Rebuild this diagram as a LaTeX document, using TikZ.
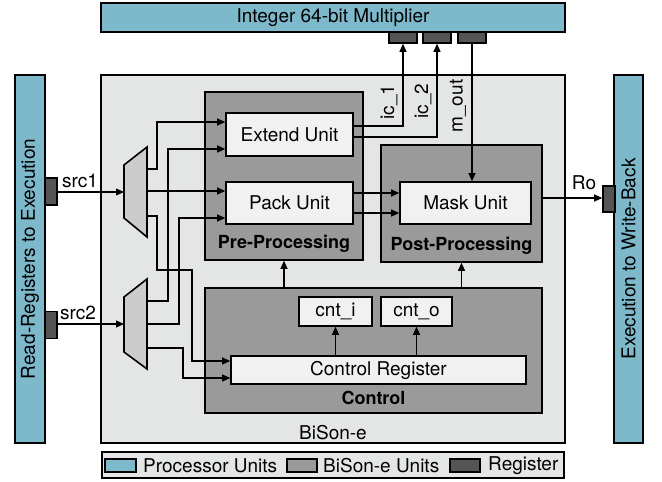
\documentclass[tikz,border=0pt]{standalone}
\usepackage{fontspec}
\setmainfont{TeX Gyre Heros}
\usetikzlibrary{arrows.meta}

\definecolor{procblue}{HTML}{7EB8CB}
\definecolor{bisonbg}{HTML}{E4E5E5}
\definecolor{unitgray}{HTML}{9A9A9A}
\definecolor{innerwhite}{HTML}{F0F1F0}
\definecolor{muxgray}{HTML}{CCCCCC}
\definecolor{reggray}{HTML}{555555}

\tikzset{
  blk/.style={draw=black, line width=1.6pt, inner sep=0pt},
  procunit/.style={blk, fill=procblue},
  bisonunit/.style={blk, fill=unitgray},
  subunit/.style={blk, fill=innerwhite},
  regbox/.style={blk, fill=reggray},
  wire/.style={line width=1.1pt, -{Triangle[length=8pt,width=7pt]}},
  lbl/.style={inner sep=0pt},
  grouplbl/.style={inner sep=0pt, font=\fontsize{18}{20}\selectfont\bfseries},
}

\begin{document}
\begin{tikzpicture}[x=1pt, y=-1pt, font=\fontsize{19}{21}\selectfont]
\useasboundingbox (0,0) rectangle (662,482);

% ---- processor units ----
\node[procunit, minimum width=464pt, minimum height=29pt] (mult) at (333,17.5) {Integer 64-bit Multiplier};
\node[regbox, minimum width=28pt, minimum height=11pt] (rA) at (403,37.5) {};
\node[regbox, minimum width=28pt, minimum height=11pt] (rB) at (437,37.5) {};
\node[regbox, minimum width=28pt, minimum height=11pt] (rC) at (472,37.5) {};

\node[procunit, minimum width=368pt, minimum height=30pt, rotate=90] (rrx) at (30,259) {Read-Registers to Execution};
\node[procunit, minimum width=368pt, minimum height=29pt, rotate=90] (exwb) at (628.5,259) {Execution to Write-Back};

% ---- BiSon-e ----
\node[blk, fill=bisonbg, minimum width=464pt, minimum height=368pt] (bison) at (333,259) {};
\node[lbl] (bisonlbl) at (333,433) {BiSon-e};

\node[regbox, minimum width=12pt, minimum height=27pt] (src1reg) at (51,191.5) {};
\node[regbox, minimum width=12pt, minimum height=27pt] (src2reg) at (51,325) {};
\node[regbox, minimum width=12pt, minimum height=26pt] (roreg) at (609,199) {};

% multiplexers
\draw[blk, fill=muxgray] (124,165) -- (147,147) -- (147,237) -- (124,218) -- cycle;
\draw[blk, fill=muxgray] (124,297) -- (147,279) -- (147,369) -- (124,352) -- cycle;
\coordinate (m1in) at (124,192);
\coordinate (m1a) at (147,169);
\coordinate (m1b) at (147,191);
\coordinate (m1c) at (147,216);
\coordinate (m2in) at (124,324);
\coordinate (m2a) at (147,301);
\coordinate (m2b) at (147,324);
\coordinate (m2c) at (147,348);

% pre-processing
\node[bisonunit, minimum width=158pt, minimum height=168pt] (pre) at (284,176) {};
\node[grouplbl] (prelbl) at (284,244) {Pre-Processing};
\node[subunit, minimum width=127pt, minimum height=43pt] (extend) at (289.5,134.5) {Extend Unit};
\node[subunit, minimum width=127pt, minimum height=42pt] (pack) at (289.5,203) {Pack Unit};

% post-processing
\node[bisonunit, minimum width=161pt, minimum height=117pt] (post) at (461.5,203.5) {};
\node[grouplbl] (postlbl) at (461.5,246) {Post-Processing};
\node[subunit, minimum width=131pt, minimum height=42pt] (mask) at (465.5,203) {Mask Unit};

% control
\node[bisonunit, minimum width=337pt, minimum height=125pt] (ctrl) at (373.5,350.5) {};
\node[grouplbl] (ctrllbl) at (373.5,398) {Control};
\node[subunit, minimum width=73pt, minimum height=29pt] (cnti) at (335.5,311.5) {cnt\_i};
\node[subunit, minimum width=71pt, minimum height=29pt] (cnto) at (416.5,311.5) {cnt\_o};
\node[subunit, minimum width=295pt, minimum height=28pt] (creg) at (378.5,370) {Control Register};

% ---- connections ----
\draw[wire] (src1reg.east |- m1in) -- (m1in);
\draw[wire] (src2reg.east |- m2in) -- (m2in);
\node[lbl] (src1lbl) at (80,181) {src1};
\node[lbl] (src2lbl) at (78,313) {src2};

\draw[wire] (m1a) -- (157,169) -- (157,122) -- (extend.west |- 0,122);
\draw[wire] (m2a) -- (168,301) -- (168,149) -- (extend.west |- 0,149);
\draw[wire] (m1b) -- (pack.west |- m1b);
\draw[wire] (m2b) -- (179,324) -- (179,218) -- (pack.west |- 0,218);
\draw[wire] (m1c) -- (157,216) -- (157,270) -- (192,270) -- (192,361) -- (creg.west |- 0,361);
\draw[wire] (m2c) -- (183,348) -- (183,378) -- (creg.west |- 0,378);

\draw[wire] (pack.east |- 0,193) -- (mask.west |- 0,193);
\draw[wire] (pack.east |- 0,213) -- (mask.west |- 0,213);

\draw[wire] (extend.east |- 0,126) -| (rA.south);
\draw[wire] (extend.east |- 0,137) -| (rB.south);
\draw[wire] (rC.south) -- (rC.south |- mask.north);
\node[lbl, rotate=90] (ic1lbl) at (389,102) {ic\_1};
\node[lbl, rotate=90] (ic2lbl) at (423,101) {ic\_2};
\node[lbl, rotate=90] (moutlbl) at (458,106) {m\_out};

\draw[wire] (post.east |- 0,198) -- (roreg.west |- 0,198);
\node[lbl] (rolbl) at (584,183) {Ro};

\draw[wire] (pre.south |- ctrl.north) -- (pre.south);
\draw[wire] (post.south |- ctrl.north) -- (post.south);
\draw[wire] (cnti.south |- creg.north) -- (cnti.south);
\draw[wire] (cnto.south |- creg.north) -- (cnto.south);

% ---- legend ----
\node[blk, fill=bisonbg, minimum width=462pt, minimum height=26pt] (legend) at (333,465) {};
\node[procunit, minimum width=31pt, minimum height=13pt] (sw1) at (120.5,465.5) {};
\node[lbl, anchor=west] (lg1) at (143,465.5) {Processor Units};
\node[bisonunit, minimum width=30pt, minimum height=13pt] (sw2) at (302,465.5) {};
\node[lbl, anchor=west] (lg2) at (323,465.5) {BiSon-e Units};
\node[regbox, minimum width=30pt, minimum height=13pt] (sw3) at (465,465.5) {};
\node[lbl, anchor=west] (lg3) at (488,465.5) {Register};
\end{tikzpicture}
\end{document}
